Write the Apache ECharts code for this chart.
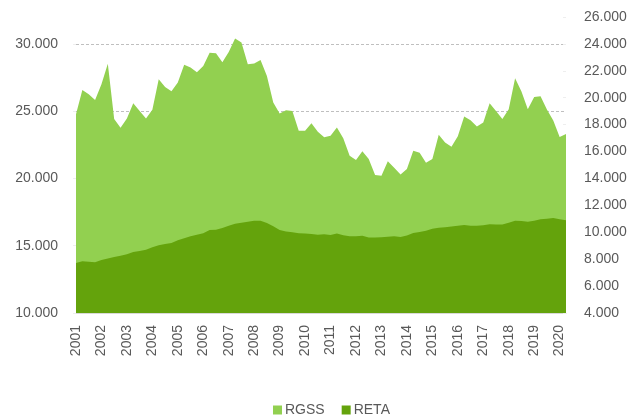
<!DOCTYPE html>
<html>
<head>
<meta charset="utf-8">
<script src="https://cdn.jsdelivr.net/npm/echarts@6/dist/echarts.min.js"></script>
<style>
  html, body { margin: 0; padding: 0; background: #fff; }
  #chart { width: 638px; height: 416px; }
</style>
</head>
<body>
<div id="chart"></div>
<script>
const YEARS = ['2001', '2002', '2003', '2004', '2005', '2006', '2007', '2008', '2009', '2010',
  '2011', '2012', '2013', '2014', '2015', '2016', '2017', '2018', '2019', '2020']
const QUARTERS = ['T1', 'T2', 'T3', 'T4']

// trimestral, 2001T1 - 2020T2 (eje izquierdo)
const rgss = [
  24780, 26580, 26260, 25840, 27000, 28530, 24410, 23760, 24460, 25590,
  25020, 24460, 25100, 27370, 26800, 26480, 27130, 28460, 28240, 27890,
  28360, 29350, 29300, 28630, 29400, 30410, 30110, 28480, 28550, 28800,
  27610, 25640, 24830, 25070, 25020, 23540, 23540, 24110, 23470, 23070,
  23170, 23790, 22980, 21690, 21370, 22020, 21450, 20260, 20210, 21280,
  20790, 20290, 20710, 22060, 21910, 21170, 21450, 23240, 22680, 22360,
  23130, 24610, 24330, 23870, 24160, 25590, 25020, 24410, 25150, 27450,
  26470, 25150, 26060, 26110, 25130, 24300, 23090, 23310
]

// eje derecho
const reta = [
  7720, 7840, 7800, 7780, 7930, 8050, 8170, 8250, 8370, 8540,
  8600, 8710, 8890, 9040, 9120, 9210, 9410, 9560, 9700, 9810,
  9930, 10160, 10190, 10320, 10490, 10640, 10710, 10790, 10860, 10860,
  10690, 10450, 10160, 10060, 10010, 9930, 9900, 9870, 9820, 9860,
  9800, 9900, 9780, 9700, 9710, 9750, 9620, 9610, 9630, 9660,
  9700, 9650, 9760, 9950, 10020, 10120, 10270, 10340, 10380, 10420,
  10490, 10540, 10490, 10480, 10530, 10600, 10580, 10570, 10710, 10860,
  10830, 10790, 10860, 10970, 11010, 11060, 10960, 10900
]

const categories = []
YEARS.forEach(y => QUARTERS.forEach(q => categories.push(y + q)))
categories.length = rgss.length

const FONT = '"Liberation Sans", Arial, sans-serif'
const TEXT_COLOR = '#595959'
const AXIS_COLOR = '#d9d9d9'
const TICK_COLOR = '#eeeeee'

const fmt = v => String(v).replace(/\B(?=(\d{3})+(?!\d))/g, '.')

const chart = echarts.init(document.getElementById('chart'))
chart.setOption({
  animation: false,
  color: ['#92d050', '#64a30c'],
  textStyle: { fontFamily: FONT },
  grid: { left: 76, right: 72, top: 17, bottom: 103 },
  legend: {
    left: 268,
    top: 398,
    itemWidth: 9,
    itemHeight: 9,
    itemGap: 17,
    icon: 'rect',
    textStyle: { fontFamily: FONT, fontSize: 14, color: TEXT_COLOR, padding: [0, 0, 0, -2] },
    data: ['RGSS', 'RETA']
  },
  xAxis: {
    type: 'category',
    boundaryGap: false,
    data: categories,
    axisLine: { lineStyle: { color: AXIS_COLOR } },
    axisTick: { show: false },
    axisLabel: {
      interval: 3,
      rotate: 90,
      margin: 12,
      fontFamily: FONT,
      fontSize: 14,
      color: TEXT_COLOR,
      formatter: v => v.slice(0, 4)
    }
  },
  yAxis: [{
    type: 'value',
    min: 10000,
    max: 32000,
    interval: 5000,
    axisLine: { show: false },
    axisTick: { show: true, length: 3, lineStyle: { color: TICK_COLOR } },
    axisLabel: {
      margin: 18,
      fontFamily: FONT,
      fontSize: 14,
      color: TEXT_COLOR,
      showMaxLabel: false,
      formatter: fmt
    },
    splitLine: {
      show: true,
      showMinLine: false,
      showMaxLine: false,
      lineStyle: { color: '#bfbfbf', type: [3, 2] }
    }
  }, {
    type: 'value',
    min: 4000,
    max: 26000,
    interval: 2000,
    axisLine: { show: false },
    axisTick: { show: true, inside: true, length: 3, lineStyle: { color: TICK_COLOR } },
    axisLabel: {
      margin: 18,
      fontFamily: FONT,
      fontSize: 14,
      color: TEXT_COLOR,
      formatter: fmt
    },
    splitLine: { show: false }
  }],
  series: [{
    name: 'RGSS',
    type: 'line',
    yAxisIndex: 0,
    data: rgss,
    symbol: 'none',
    lineStyle: { width: 0 },
    areaStyle: { opacity: 1 }
  }, {
    name: 'RETA',
    type: 'line',
    yAxisIndex: 1,
    data: reta,
    symbol: 'none',
    lineStyle: { width: 0 },
    areaStyle: { opacity: 1 }
  }]
})
</script>
</body>
</html>
